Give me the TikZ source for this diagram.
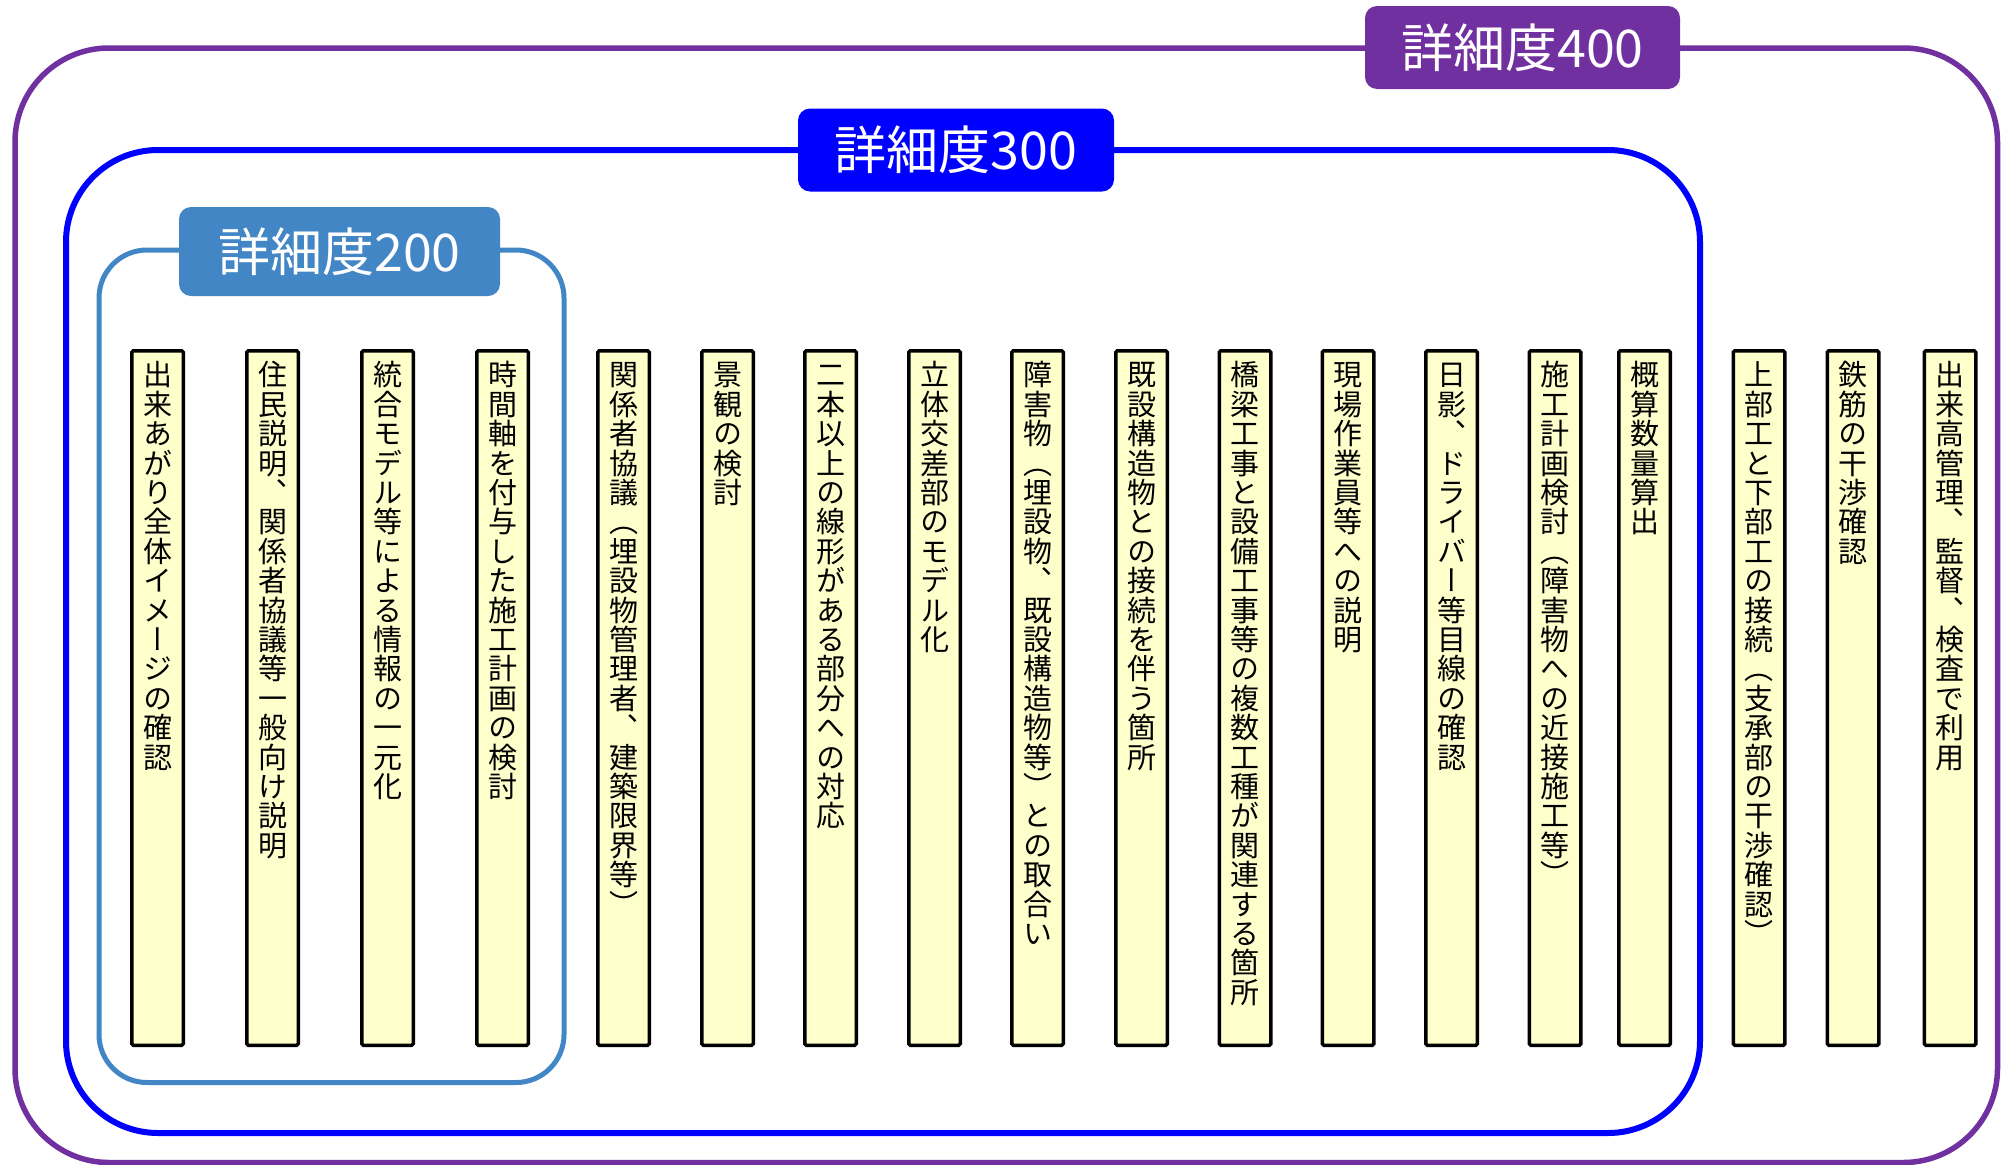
\documentclass[tikz,border=0pt]{standalone}
\usepackage{fontspec}
\newfontfamily\jpfont{Noto Sans CJK JP}
\newfontfamily\jpvfont[RawFeature=+vert]{Noto Sans CJK JP}
\definecolor{lvfour}{RGB}{112,48,160}
\definecolor{lvthree}{RGB}{0,0,255}
\definecolor{lvtwo}{RGB}{66,134,198}
\definecolor{colfill}{RGB}{255,255,204}

\newcommand\vch[1]{\hbox to 1em{\hss\vrule height 0.88em depth 0.12em width 0pt\relax #1\hss}}
\ExplSyntaxOn
\NewDocumentCommand \vtext { m } {
  \vbox:n {
    \skip_set:Nn \baselineskip {29.4pt}
    \dim_set:Nn \lineskiplimit {-\maxdimen}
    \tl_map_function:nN {#1} \vch
  }
}
\ExplSyntaxOff

\tikzset{
  lvbox/.style={line width=#1},
  lbl/.style={rounded corners=12pt, inner sep=0pt, text=white,
    font=\fontsize{52pt}{60pt}\jpfont},
  colbox/.style={draw=black, line width=3.5pt, fill=colfill, rounded corners=1.5pt,
    minimum width=51.5pt, minimum height=694.5pt, inner sep=0pt, outer sep=0pt, anchor=north},
  coltext/.style={anchor=north, inner sep=0pt, text=black,
    font=\fontsize{29pt}{29.4pt}\jpvfont}
}

\begin{document}
\begin{tikzpicture}[x=1pt, y=-1pt]
\fill[white] (0,0) rectangle (2006,1165);
\useasboundingbox (0,0) rectangle (2006,1165);

% level outlines
\draw[draw=lvfour, line width=5.5pt, rounded corners=94pt] (15,48) rectangle (1997.5,1162.5);
\draw[draw=lvthree, line width=6pt, rounded corners=92pt] (66,150) rectangle (1700,1133);
\draw[draw=lvtwo, line width=5pt, rounded corners=48pt] (99,250) rectangle (564,1082.5);

% level labels
\node[lbl, fill=lvfour, minimum width=315pt, minimum height=83pt] (l400) at (1522.5,47.5) {詳細度400};
\node[lbl, fill=lvthree, minimum width=316pt, minimum height=83pt] (l300) at (956,150) {詳細度300};
\node[lbl, fill=lvtwo, minimum width=321pt, minimum height=89pt] (l200) at (339.5,251.5) {詳細度200};

% columns
\node[colbox] (c1) at (157.5,350.75) {};
\node[coltext] (t1) at ([yshift=-9.5pt]c1.north) {\vtext{出来あがり全体イメージの確認}};
\node[colbox] (c2) at (272.5,350.75) {};
\node[coltext] (t2) at ([yshift=-9.5pt]c2.north) {\vtext{住民説明、関係者協議等一般向け説明}};
\node[colbox] (c3) at (387.5,350.75) {};
\node[coltext] (t3) at ([yshift=-9.5pt]c3.north) {\vtext{統合モデル等による情報の一元化}};
\node[colbox] (c4) at (502.5,350.75) {};
\node[coltext] (t4) at ([yshift=-9.5pt]c4.north) {\vtext{時間軸を付与した施工計画の検討}};
\node[colbox] (c5) at (623.5,350.75) {};
\node[coltext] (t5) at ([yshift=-9.5pt]c5.north) {\vtext{関係者協議（埋設物管理者、建築限界等）}};
\node[colbox] (c6) at (727.5,350.75) {};
\node[coltext] (t6) at ([yshift=-9.5pt]c6.north) {\vtext{景観の検討}};
\node[colbox] (c7) at (830.5,350.75) {};
\node[coltext] (t7) at ([yshift=-9.5pt]c7.north) {\vtext{二本以上の線形がある部分への対応}};
\node[colbox] (c8) at (934.5,350.75) {};
\node[coltext] (t8) at ([yshift=-9.5pt]c8.north) {\vtext{立体交差部のモデル化}};
\node[colbox] (c9) at (1037.5,350.75) {};
\node[coltext] (t9) at ([yshift=-9.5pt]c9.north) {\vtext{障害物（埋設物、既設構造物等）との取合い}};
\node[colbox] (c10) at (1141.5,350.75) {};
\node[coltext] (t10) at ([yshift=-9.5pt]c10.north) {\vtext{既設構造物との接続を伴う箇所}};
\node[colbox] (c11) at (1245,350.75) {};
\node[coltext] (t11) at ([yshift=-9.5pt]c11.north) {\vtext{橋梁工事と設備工事等の複数工種が関連する箇所}};
\node[colbox] (c12) at (1348,350.75) {};
\node[coltext] (t12) at ([yshift=-9.5pt]c12.north) {\vtext{現場作業員等への説明}};
\node[colbox] (c13) at (1451.5,350.75) {};
\node[coltext] (t13) at ([yshift=-9.5pt]c13.north) {\vtext{日影、ドライバー等目線の確認}};
\node[colbox] (c14) at (1555,350.75) {};
\node[coltext] (t14) at ([yshift=-9.5pt]c14.north) {\vtext{施工計画検討（障害物への近接施工等）}};
\node[colbox] (c15) at (1644.5,350.75) {};
\node[coltext] (t15) at ([yshift=-9.5pt]c15.north) {\vtext{概算数量算出}};
\node[colbox] (c16) at (1759,350.75) {};
\node[coltext] (t16) at ([yshift=-9.5pt]c16.north) {\vtext{上部工と下部工の接続（支承部の干渉確認）}};
\node[colbox] (c17) at (1853,350.75) {};
\node[coltext] (t17) at ([yshift=-9.5pt]c17.north) {\vtext{鉄筋の干渉確認}};
\node[colbox] (c18) at (1950,350.75) {};
\node[coltext] (t18) at ([yshift=-9.5pt]c18.north) {\vtext{出来高管理、監督、検査で利用}};
\end{tikzpicture}
\end{document}
